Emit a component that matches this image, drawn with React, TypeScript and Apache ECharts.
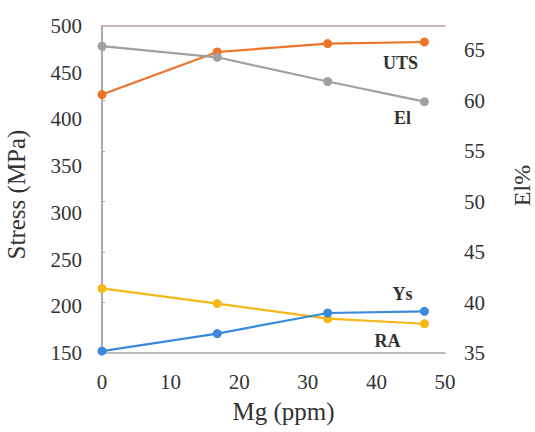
import React, { useEffect, useRef } from "react";
import * as echarts from "echarts";

const mgPpm = [0, 16.8, 32.9, 47];
const utsMPa = [426.6, 472.2, 481.2, 482.9];
const ysMPa = [152.1, 170.8, 192.8, 194.6];
const elPct = [65.4, 64.3, 61.9, 59.9];
const raPct = [41.4, 39.9, 38.4, 37.9];

const xTitle = "Mg (ppm)";
const yLeftTitle = "Stress (MPa)";
const yRightTitle = "El%";

const FONT = "Liberation Serif";
const TXT = "#333333";
const AXIS = "#a6a6a6";

function pairs(ys: number[]) {
  return mgPpm.map((x, i) => [x, ys[i]]);
}

function withEndLabel(ys: number[], text: string, offset: [number, number]) {
  const d: any[] = pairs(ys);
  const last = d.length - 1;
  d[last] = {
    value: d[last],
    label: {
      show: true,
      position: "inside",
      offset,
      formatter: text,
      fontFamily: FONT,
      fontSize: 18,
      fontWeight: "bold",
      color: TXT,
    },
  };
  return d;
}

export default function App() {
  const ref = useRef<HTMLDivElement>(null);
  useEffect(() => {
    if (!ref.current) return;
    const chart = echarts.init(ref.current, undefined, { renderer: "svg" });
    const lineSeries = (
      name: string,
      data: any[],
      color: string,
      yAxisIndex: number
    ) => ({
      name,
      type: "line",
      data,
      yAxisIndex,
      xAxisIndex: 0,
      symbol: "circle",
      symbolSize: 9,
      showSymbol: true,
      lineStyle: { color, width: 2.2 },
      itemStyle: { color },
      label: { show: false },
      emphasis: { disabled: true },
    });
    chart.setOption({
      animation: false,
      backgroundColor: "#ffffff",
      textStyle: { fontFamily: FONT },
      grid: {
        left: 102,
        right: 90,
        top: 26,
        bottom: 79,
        containLabel: false,
        outerBoundsMode: "none",
      },
      xAxis: [
        {
          type: "value",
          min: 0,
          max: 50,
          interval: 10,
          position: "bottom",
          name: xTitle,
          nameLocation: "middle",
          nameGap: 46,
          nameTextStyle: {
            fontFamily: FONT,
            fontSize: 25,
            color: TXT,
            padding: [0, 0, 0, 20],
          },
          axisLine: { show: true, lineStyle: { color: AXIS, width: 1.5 } },
          axisTick: { show: false },
          splitLine: { show: false },
          axisLabel: { fontFamily: FONT, fontSize: 21, color: TXT, margin: 18 },
        },
        {
          type: "value",
          min: 0,
          max: 50,
          position: "top",
          axisLine: { show: true, lineStyle: { color: "#c0a0a4", width: 1.5 } },
          axisTick: { show: false },
          splitLine: { show: false },
          axisLabel: { show: false },
        },
      ],
      yAxis: [
        {
          type: "value",
          min: 150,
          max: 500,
          interval: 50,
          position: "left",
          name: yLeftTitle,
          nameLocation: "middle",
          nameRotate: 90,
          nameGap: 73,
          nameTextStyle: {
            fontFamily: FONT,
            fontSize: 25,
            color: TXT,
            padding: [0, 10, 0, 0],
          },
          axisLine: { show: true, lineStyle: { color: AXIS, width: 1.5 } },
          axisTick: { show: false },
          splitLine: { show: false },
          axisLabel: { fontFamily: FONT, fontSize: 21, color: TXT, margin: 20 },
        },
        {
          type: "value",
          min: 35,
          max: 67.4,
          interval: 5,
          position: "right",
          name: yRightTitle,
          nameLocation: "middle",
          nameRotate: 90,
          nameGap: 65,
          nameTextStyle: {
            fontFamily: FONT,
            fontSize: 24,
            color: TXT,
            padding: [0, 0, 0, 8],
          },
          axisLine: { show: true, lineStyle: { color: AXIS, width: 1.5 } },
          axisTick: {
            show: true,
            inside: false,
            length: 3,
            lineStyle: { color: AXIS },
          },
          splitLine: { show: false },
          axisLabel: {
            fontFamily: FONT,
            fontSize: 21,
            color: TXT,
            margin: 19,
            showMaxLabel: false,
          },
        },
      ],
      series: [
        lineSeries("UTS", withEndLabel(utsMPa, "UTS", [-24, 21]), "#ec7428", 0),
        lineSeries("El", withEndLabel(elPct, "El", [-22, 16]), "#a0a0a0", 1),
        lineSeries("RA", withEndLabel(raPct, "RA", [-37, 17]), "#f5b816", 1),
        lineSeries("Ys", withEndLabel(ysMPa, "Ys", [-22, -17]), "#3b89d8", 0),
      ],
    });
    return () => chart.dispose();
  }, []);
  return (
    <div
      ref={ref}
      style={{ position: "fixed", left: 0, top: 0, width: 535, height: 432 }}
    />
  );
}
